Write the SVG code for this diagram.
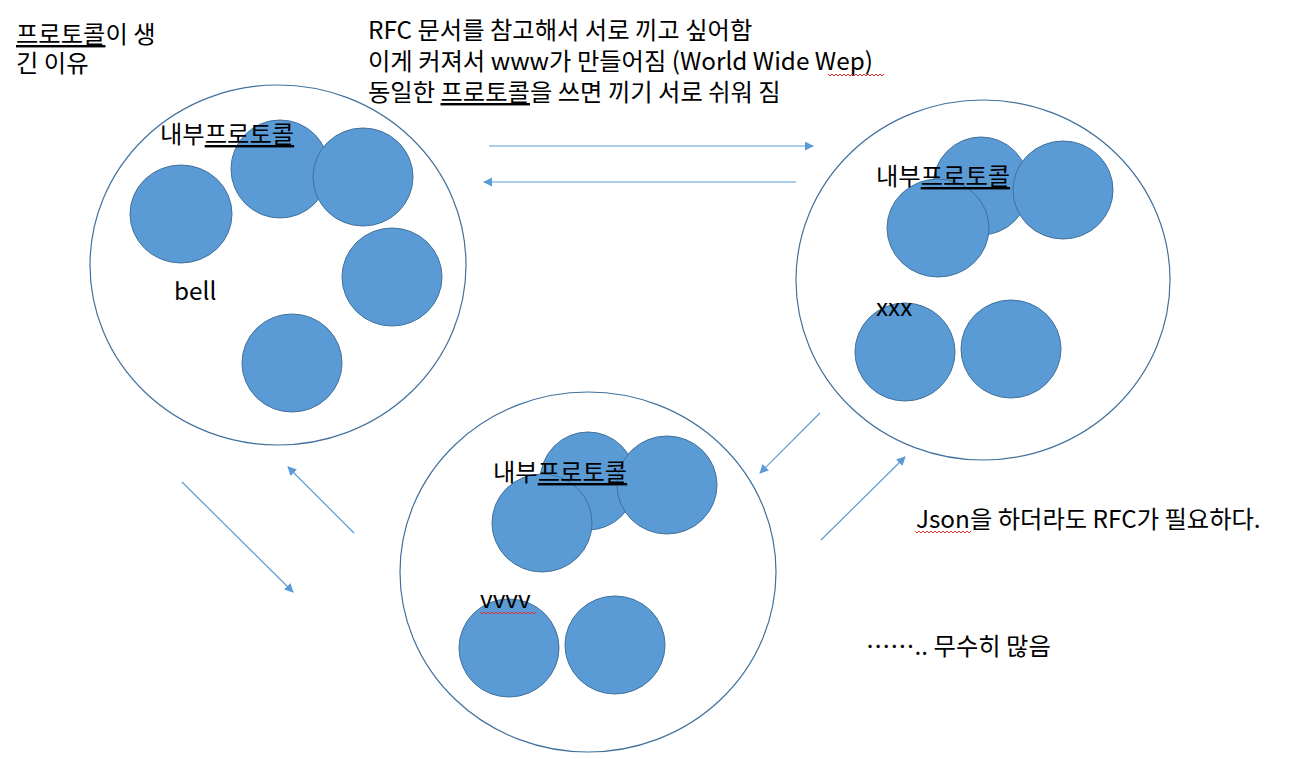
<svg xmlns="http://www.w3.org/2000/svg" width="1296" height="759" viewBox="0 0 1296 759">
<defs>
<marker id="ah" viewBox="0 0 10 10" refX="9" refY="5" markerWidth="9" markerHeight="9" markerUnits="userSpaceOnUse" orient="auto">
<path d="M0,0 L10,5 L0,10 z" fill="#5B9BD5"/>
</marker>
<style>
.big{fill:#fff;stroke:#41719C;stroke-width:1.2}
.sm{fill:#5B9BD5;stroke:#41719C;stroke-width:1}
.t{font-family:"Noto Sans CJK KR","Noto Sans",sans-serif;font-size:24.3px;fill:#000}
.u{text-decoration:underline}
.c{stroke:#5B9BD5;stroke-width:1.2;fill:none;marker-end:url(#ah)}
.sq{stroke:#E03030;stroke-width:1;fill:none}
</style>
</defs>
<rect width="1296" height="759" fill="#fff"/>
<g id="title">
<text class="t" x="16" y="43"><tspan class="u">프로토콜</tspan>이 생</text>
<text class="t" x="16" y="72">긴 이유</text>
</g>
<g id="header">
<text class="t" x="368" y="39">RFC 문서를 참고해서 서로 끼고 싶어함</text>
<text class="t" x="368" y="70">이게 커져서 www가 만들어짐 (World Wide Wep)</text>
<text class="t" x="368" y="101">동일한 <tspan class="u">프로토콜</tspan>을 쓰면 끼기 서로 쉬워 짐</text>
<path class="sq" d="M828,74 l2,2 l2,-2 l2,2 l2,-2 l2,2 l2,-2 l2,2 l2,-2 l2,2 l2,-2 l2,2 l2,-2 l2,2 l2,-2 l2,2 l2,-2 l2,2 l2,-2 l2,2 l2,-2 l2,2 l2,-2 l2,2 l2,-2 l2,2 l2,-2 l2,2 l2,-2"/>
</g>
<g id="net-left">
<ellipse class="big" cx="278" cy="265" rx="188" ry="180"/>
<ellipse class="sm" cx="181" cy="214" rx="51" ry="49"/>
<ellipse class="sm" cx="280" cy="169" rx="49" ry="49"/>
<ellipse class="sm" cx="363" cy="177" rx="50" ry="49"/>
<ellipse class="sm" cx="392" cy="277" rx="50" ry="49"/>
<ellipse class="sm" cx="292" cy="363" rx="50" ry="49"/>
<text class="t" x="160" y="143">내부<tspan class="u">프로토콜</tspan></text>
<text class="t" x="174" y="300">bell</text>
</g>
<g id="net-right">
<ellipse class="big" cx="983" cy="280" rx="187" ry="180"/>
<ellipse class="sm" cx="981" cy="186" rx="48" ry="49"/>
<ellipse class="sm" cx="1063" cy="190" rx="50" ry="49"/>
<ellipse class="sm" cx="938" cy="228" rx="51" ry="49"/>
<ellipse class="sm" cx="905" cy="352" rx="50" ry="49"/>
<ellipse class="sm" cx="1011" cy="349" rx="50" ry="49"/>
<text class="t" x="876" y="185">내부<tspan class="u">프로토콜</tspan></text>
<text class="t" x="876" y="316">xxx</text>
</g>
<g id="net-bottom">
<ellipse class="big" cx="588" cy="572" rx="188" ry="180"/>
<ellipse class="sm" cx="588" cy="481" rx="48" ry="49"/>
<ellipse class="sm" cx="667" cy="485" rx="50" ry="49"/>
<ellipse class="sm" cx="542" cy="523" rx="50" ry="49"/>
<ellipse class="sm" cx="509" cy="648" rx="50" ry="49"/>
<ellipse class="sm" cx="615" cy="645" rx="50" ry="49"/>
<text class="t" x="493" y="481">내부<tspan class="u">프로토콜</tspan></text>
<text class="t" x="480" y="608">vvvv</text>
<path class="sq" d="M480,612 l2,2 l2,-2 l2,2 l2,-2 l2,2 l2,-2 l2,2 l2,-2 l2,2 l2,-2 l2,2 l2,-2 l2,2 l2,-2 l2,2 l2,-2 l2,2 l2,-2 l2,2 l2,-2 l2,2 l2,-2 l2,2 l2,-2 l2,2 l2,-2 l2,2 l2,-2"/>
</g>
<g id="notes">
<text class="t" x="916" y="528">Json을 하더라도 RFC가 필요하다.</text>
<path class="sq" d="M915,531 l2,2 l2,-2 l2,2 l2,-2 l2,2 l2,-2 l2,2 l2,-2 l2,2 l2,-2 l2,2 l2,-2 l2,2 l2,-2 l2,2 l2,-2 l2,2 l2,-2 l2,2 l2,-2 l2,2 l2,-2 l2,2 l2,-2 l2,2 l2,-2 l2,2 l2,-2"/>
<text class="t" x="866" y="655">…….. 무수히 많음</text>
</g>
<g id="connectors">
<line class="c" x1="489" y1="146" x2="813" y2="146"/>
<line class="c" x1="796" y1="182" x2="484" y2="182"/>
<line class="c" x1="182" y1="482" x2="293" y2="592"/>
<line class="c" x1="354" y1="533" x2="288" y2="467"/>
<line class="c" x1="820" y1="413" x2="760" y2="473"/>
<line class="c" x1="821" y1="540" x2="905" y2="457"/>
</g>
</svg>
